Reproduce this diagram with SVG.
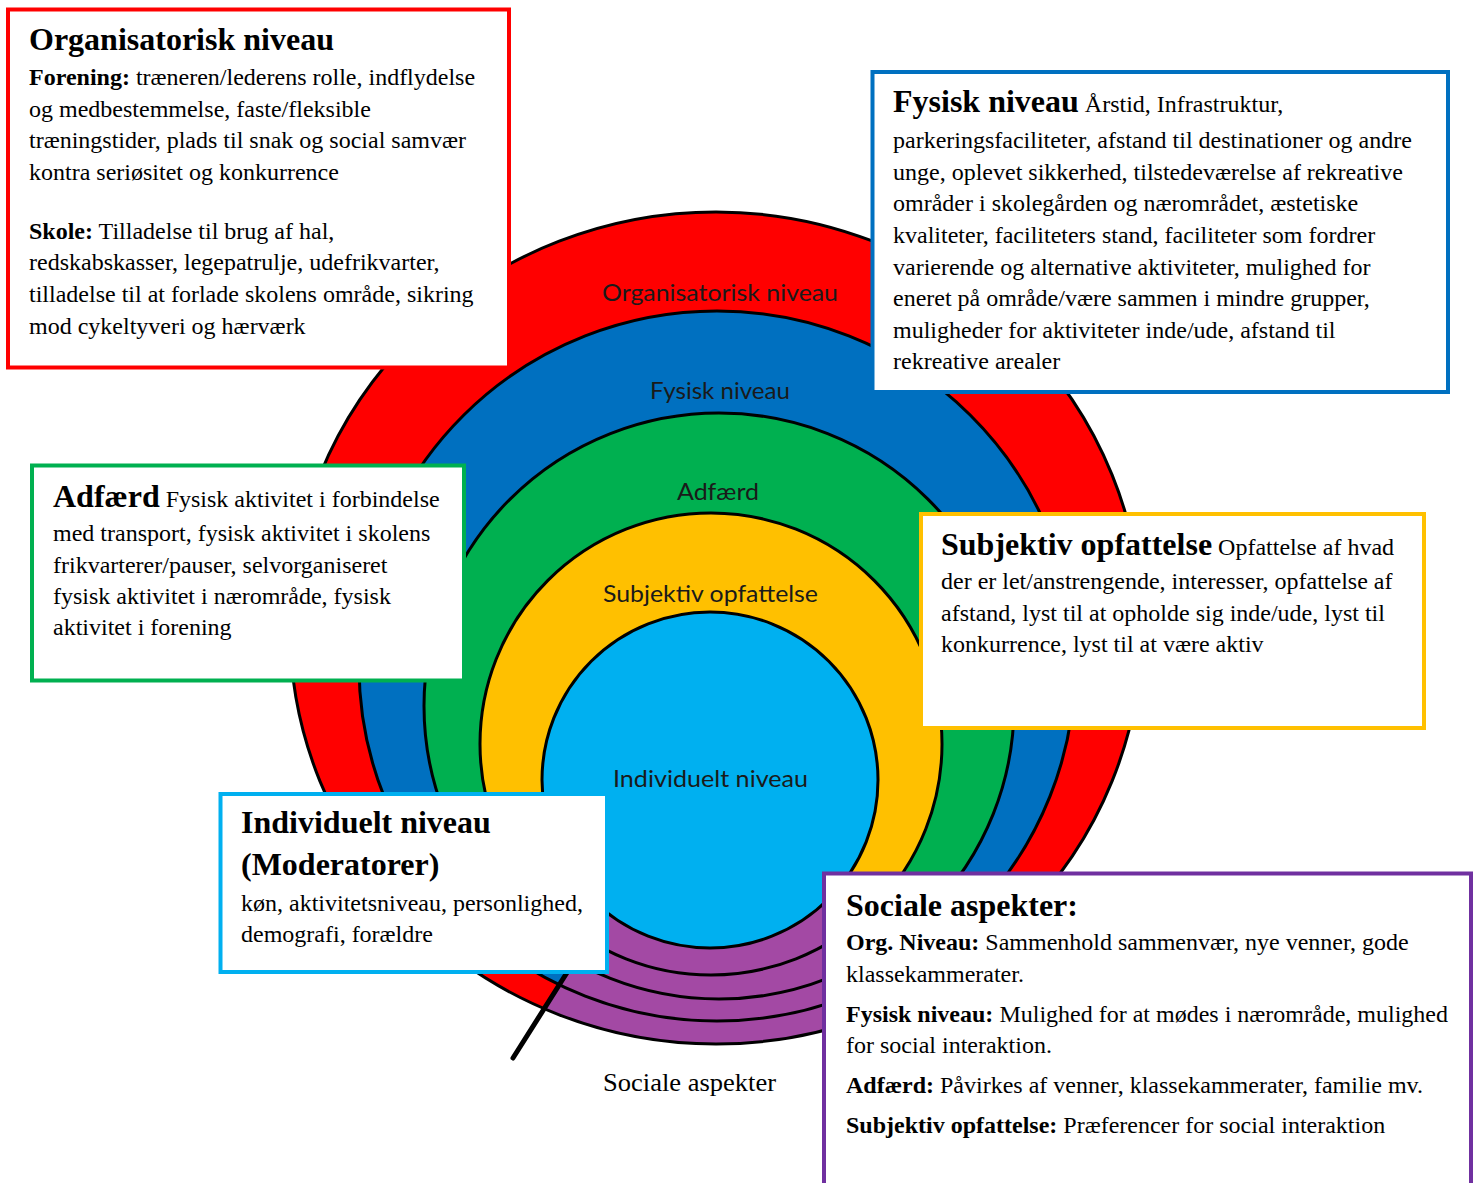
<svg xmlns="http://www.w3.org/2000/svg" width="1479" height="1183" viewBox="0 0 1479 1183">
<defs>
<style>
.ring{stroke:none}
.outline{fill:none;stroke:#000;stroke-width:3}
.lbl{font-family:Lato,"Liberation Sans",Arial,sans-serif;font-size:23px;fill:#1a1a1a}
.box{fill:#fff;stroke-width:4}
.tx{font-family:"Liberation Serif","Times New Roman",serif;font-size:24px;fill:#000}
.t{font-weight:bold;font-size:32px}
.b{font-weight:bold}
</style>
<clipPath id="wedge"><polygon points="688,780 470,1127 1100,1127 1100,880 830,880 760,780"/></clipPath>
</defs>
<rect width="1479" height="1183" fill="#fff"/>
<g id="rings">
<ellipse class="ring" cx="716" cy="628" rx="426" ry="416" fill="#FF0000"/>
<ellipse class="ring" cx="717" cy="666" rx="358" ry="355" fill="#0070C0"/>
<ellipse class="ring" cx="719" cy="706" rx="295" ry="293" fill="#00B050"/>
<circle class="ring" cx="711" cy="744" r="231" fill="#FFC000"/>
<circle class="ring" cx="710" cy="780" r="168" fill="#00B0F0"/>
<path clip-path="url(#wedge)" fill="#A349A4" fill-rule="evenodd" d="M290,628a426,416 0 1,0 852,0a426,416 0 1,0 -852,0Z M542,780a168,168 0 1,0 336,0a168,168 0 1,0 -336,0Z"/>
<ellipse class="outline" cx="716" cy="628" rx="426" ry="416"/>
<ellipse class="outline" cx="717" cy="666" rx="358" ry="355"/>
<ellipse class="outline" cx="719" cy="706" rx="295" ry="293"/>
<circle class="outline" cx="711" cy="744" r="231"/>
<circle class="outline" cx="710" cy="780" r="168"/>
<text class="lbl" x="602" y="301" textLength="236" lengthAdjust="spacingAndGlyphs">Organisatorisk niveau</text>
<text class="lbl" x="650" y="399" textLength="140" lengthAdjust="spacingAndGlyphs">Fysisk niveau</text>
<text class="lbl" x="677" y="500" textLength="82" lengthAdjust="spacingAndGlyphs">Adfærd</text>
<text class="lbl" x="603" y="602" textLength="215" lengthAdjust="spacingAndGlyphs">Subjektiv opfattelse</text>
<text class="lbl" x="613" y="787" textLength="195" lengthAdjust="spacingAndGlyphs">Individuelt niveau</text>
</g>
<g id="connectors">
<line x1="513" y1="1058" x2="580" y2="952" stroke="#000" stroke-width="5" stroke-linecap="round"/>
</g>
<text class="tx" x="603" y="1091" style="font-size:26px" textLength="173" lengthAdjust="spacingAndGlyphs">Sociale aspekter</text>
<g id="box-organisatorisk">
<rect class="box" x="8" y="9.5" width="501" height="358" stroke="#FF0000"/>
<text class="tx"><tspan class="t" x="29" y="50">Organisatorisk niveau</tspan><tspan class="b" x="29" y="85">Forening:</tspan> træneren/lederens rolle, indflydelse<tspan x="29" y="117">og medbestemmelse, faste/fleksible</tspan><tspan x="29" y="148">træningstider, plads til snak og social samvær</tspan><tspan x="29" y="180">kontra seriøsitet og konkurrence</tspan><tspan class="b" x="29" y="239">Skole:</tspan> Tilladelse til brug af hal,<tspan x="29" y="270">redskabskasser, legepatrulje, udefrikvarter,</tspan><tspan x="29" y="302">tilladelse til at forlade skolens område, sikring</tspan><tspan x="29" y="334">mod cykeltyveri og hærværk</tspan></text>
</g>
<g id="box-fysisk">
<rect class="box" x="872.5" y="72" width="575.5" height="320" stroke="#0070C0"/>
<text class="tx"><tspan class="t" x="893" y="112">Fysisk niveau</tspan> Årstid, Infrastruktur,<tspan x="893" y="148">parkeringsfaciliteter, afstand til destinationer og andre</tspan><tspan x="893" y="180">unge, oplevet sikkerhed, tilstedeværelse af rekreative</tspan><tspan x="893" y="211">områder i skolegården og nærområdet, æstetiske</tspan><tspan x="893" y="243">kvaliteter, faciliteters stand, faciliteter som fordrer</tspan><tspan x="893" y="275">varierende og alternative aktiviteter, mulighed for</tspan><tspan x="893" y="306">eneret på område/være sammen i mindre grupper,</tspan><tspan x="893" y="338">muligheder for aktiviteter inde/ude, afstand til</tspan><tspan x="893" y="369">rekreative arealer</tspan></text>
</g>
<g id="box-adfaerd">
<rect class="box" x="32" y="465.5" width="432" height="215" stroke="#00B050"/>
<text class="tx"><tspan class="t" x="53" y="507">Adfærd</tspan> Fysisk aktivitet i forbindelse<tspan x="53" y="541">med transport, fysisk aktivitet i skolens</tspan><tspan x="53" y="573">frikvarterer/pauser, selvorganiseret</tspan><tspan x="53" y="604">fysisk aktivitet i nærområde, fysisk</tspan><tspan x="53" y="635">aktivitet i forening</tspan></text>
</g>
<g id="box-subjektiv">
<rect class="box" x="921" y="514" width="503" height="214" stroke="#FFC000"/>
<text class="tx"><tspan class="t" x="941" y="555">Subjektiv opfattelse</tspan> Opfattelse af hvad<tspan x="941" y="589">der er let/anstrengende, interesser, opfattelse af</tspan><tspan x="941" y="621">afstand, lyst til at opholde sig inde/ude, lyst til</tspan><tspan x="941" y="652">konkurrence, lyst til at være aktiv</tspan></text>
</g>
<g id="box-individuelt">
<rect class="box" x="220.5" y="794" width="386.5" height="178" stroke="#00B0F0"/>
<text class="tx"><tspan class="t" x="241" y="833">Individuelt niveau</tspan><tspan class="t" x="241" y="875">(Moderatorer)</tspan><tspan x="241" y="911">køn, aktivitetsniveau, personlighed,</tspan><tspan x="241" y="942">demografi, forældre</tspan></text>
</g>
<g id="box-sociale">
<rect class="box" x="824" y="873.5" width="647" height="330" stroke="#7030A0" stroke-width="5"/>
<text class="tx"><tspan class="t" x="846" y="916">Sociale aspekter:</tspan><tspan class="b" x="846" y="950">Org. Niveau:</tspan> Sammenhold sammenvær, nye venner, gode<tspan x="846" y="982">klassekammerater.</tspan><tspan class="b" x="846" y="1022">Fysisk niveau:</tspan> Mulighed for at mødes i nærområde, mulighed<tspan x="846" y="1053">for social interaktion.</tspan><tspan class="b" x="846" y="1093">Adfærd:</tspan> Påvirkes af venner, klassekammerater, familie mv.<tspan class="b" x="846" y="1133">Subjektiv opfattelse:</tspan> Præferencer for social interaktion</text>
</g>
</svg>
